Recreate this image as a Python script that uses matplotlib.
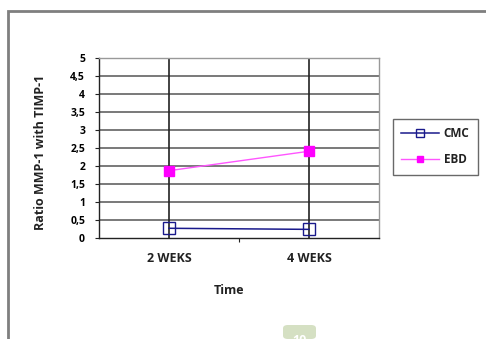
import matplotlib
matplotlib.use("Agg")
import matplotlib.pyplot as plt
from matplotlib.patches import Rectangle, FancyBboxPatch

plt.rcParams['font.family'] = ['Open Sans', 'DejaVu Sans']
plt.rcParams['font.weight'] = 'bold'

times = ['2 WEKS', '4 WEKS']
cmc = [0.27, 0.24]
ebd = [1.87, 2.41]
yticks = [0, 0.5, 1, 1.5, 2, 2.5, 3, 3.5, 4, 4.5, 5]
ytick_labels = ['0', '0,5', '1', '1,5', '2', '2,5', '3', '3,5', '4', '4,5', '5']

W, H = 486, 339
fig = plt.figure(figsize=(W / 100, H / 100), dpi=100)

# outer chart frame, running off the right and bottom edges
fig.patches.append(Rectangle((8 / W, -0.1), 1.2, (H - 11) / H + 0.1,
                             transform=fig.transFigure, fill=False,
                             edgecolor='#7f7f7f', linewidth=2))

ax = fig.add_axes([99 / W, 1 - 238 / H, 280 / W, 180 / H])
x = [0.5, 1.5]
ax.set_xlim(0, 2)
ax.set_ylim(0, 5)

for v in yticks[1:]:
    ax.axhline(v, color='#555555', linewidth=1.1, zorder=1)
for xv in x:
    ax.axvline(xv, color='#222222', linewidth=1.2, zorder=1)

ax.plot(x, cmc, color='#1a1a8c', linewidth=1.1, marker='s', markersize=8,
        markerfacecolor='none', markeredgecolor='#1a1a8c', markeredgewidth=1.0,
        label='CMC', zorder=3)
ax.plot(x, ebd, color='#ff55ff', linewidth=1.0, marker='s', markersize=7,
        markerfacecolor='#ff00ff', markeredgecolor='#ff00ff',
        label='EBD', zorder=3)

ax.set_yticks(yticks)
ax.set_yticklabels(ytick_labels, fontsize=7.5, fontweight='bold')
ax.set_xticks([1])
ax.set_xticklabels([''])
ax.tick_params(axis='y', length=3, width=0.8, pad=7, color='#222222')
ax.tick_params(axis='x', length=3, width=0.8, direction='out', color='#222222')
for xv, t in zip(x, times):
    ax.text(xv, -0.38, t, ha='center', va='top', fontsize=9, fontweight='bold',
            transform=ax.transData, color='#222222')

for side in ['top', 'right']:
    ax.spines[side].set_color('#999999')
    ax.spines[side].set_linewidth(1.0)
for side in ['left', 'bottom']:
    ax.spines[side].set_color('#222222')
    ax.spines[side].set_linewidth(1.0)

fig.text(41 / W, 1 - 152 / H, 'Ratio MMP-1 with TIMP-1', rotation=90,
         ha='center', va='center', fontsize=9, fontweight='bold',
         color='#222222')
fig.text(229 / W, 1 - 290 / H, 'Time', ha='center', va='center', fontsize=9,
         fontweight='bold', color='#222222')

leg = fig.legend(loc='upper left', bbox_to_anchor=(393 / W, 1 - 119 / H),
                 fontsize=8.5, frameon=True, fancybox=False, handlelength=3.2,
                 borderpad=0.7, labelspacing=1.1, handletextpad=0.4,
                 borderaxespad=0, markerscale=0.7)
leg.get_frame().set_edgecolor('#444444')
leg.get_frame().set_linewidth(1.0)
for t in leg.get_texts():
    t.set_color('#222222')

# page number badge at the bottom
badge = FancyBboxPatch((283 / W, 1 - 339 / H), 33 / W, 14 / H,
                       boxstyle='round,pad=0,rounding_size=0.01',
                       transform=fig.transFigure, facecolor='#d5e0c3',
                       edgecolor='none')
fig.patches.append(badge)
fig.text(299.5 / W, 1 - 341 / H, '10', ha='center', va='center', fontsize=9,
         color='white')

fig.savefig('out.png', dpi=100)
